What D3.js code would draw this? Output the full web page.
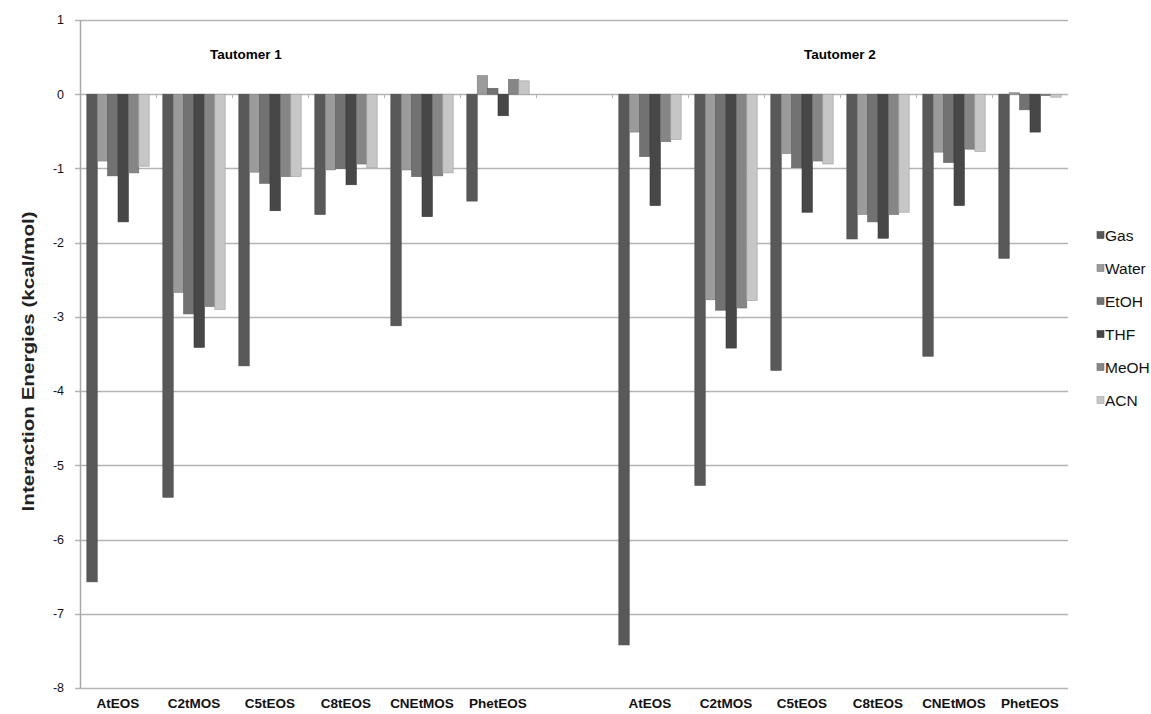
<!DOCTYPE html>
<html>
<head>
<meta charset="utf-8">
<script src="https://cdn.jsdelivr.net/npm/d3@7"></script>
<style>
  body { margin: 0; background: #fff; }
  svg { font-family: Arial, "Liberation Sans", sans-serif; }
</style>
</head>
<body>
<div id="chart"></div>
<script>
// compounds, repeated for each tautomer with one empty slot between
const compounds = ['AtEOS', 'C2tMOS', 'C5tEOS', 'C8tEOS', 'CNEtMOS', 'PhetEOS'];
const series = ['Gas', 'Water', 'EtOH', 'THF', 'MeOH', 'ACN'];
const colors = ['#595959', '#9b9b9b', '#727272', '#474747', '#868686', '#c6c6c6'];
const yTicks = [1, 0, -1, -2, -3, -4, -5, -6, -7, -8];

// values per compound, in series order
const tautomer1 = [
    [-6.57, -0.90, -1.10, -1.72, -1.06, -0.97],
    [-5.43, -2.67, -2.96, -3.41, -2.86, -2.90],
    [-3.66, -1.05, -1.20, -1.57, -1.11, -1.11],
    [-1.62, -1.02, -1.00, -1.22, -0.94, -0.99],
    [-3.12, -1.02, -1.11, -1.65, -1.10, -1.06],
    [-1.44, 0.25, 0.08, -0.29, 0.20, 0.18]
];
const tautomer2 = [
    [-7.42, -0.51, -0.84, -1.50, -0.64, -0.61],
    [-5.27, -2.77, -2.91, -3.42, -2.88, -2.78],
    [-3.72, -0.80, -0.99, -1.59, -0.90, -0.94],
    [-1.95, -1.62, -1.72, -1.94, -1.62, -1.59],
    [-3.53, -0.78, -0.92, -1.50, -0.74, -0.77],
    [-2.21, 0.02, -0.21, -0.51, -0.02, -0.04]
];

const width = 1151;
const height = 714;
const margin = {top: 20, right: 83, bottom: 26, left: 80};

// 13 slots: 6 + blank + 6
const slots = [
    ...compounds.map((c, i) => ({key: 'T1-' + c, label: c, values: tautomer1[i]})),
    {key: 'blank', label: '', values: []},
    ...compounds.map((c, i) => ({key: 'T2-' + c, label: c, values: tautomer2[i]}))
];

const svg = d3.select('#chart')
    .append('svg')
    .attr('width', width)
    .attr('height', height);

const x = d3.scaleBand()
    .domain(slots.map((d) => d.key))
    .range([margin.left, width - margin.right])
    .paddingInner(0.18)
    .paddingOuter(0.09);

const xOuter = d3.scaleBand()
    .domain(slots.map((d) => d.key))
    .range([margin.left, width - margin.right]);

const xInner = d3.scaleBand()
    .domain(series)
    .range([0, x.bandwidth()]);

const y = d3.scaleLinear()
    .domain([-8, 1])
    .range([height - margin.bottom, margin.top]);

// gridlines
svg.append('g')
    .selectAll('line')
    .data(yTicks)
    .enter()
    .append('line')
    .attr('x1', margin.left - 5)
    .attr('x2', width - margin.right)
    .attr('y1', (d) => Math.round(y(d)) + 0.5)
    .attr('y2', (d) => Math.round(y(d)) + 0.5)
    .style('stroke', '#b4b4b4')
    .style('stroke-width', 1.3);

// y axis line
svg.append('line')
    .attr('x1', margin.left + 0.5)
    .attr('x2', margin.left + 0.5)
    .attr('y1', y(1))
    .attr('y2', y(-8))
    .style('stroke', '#a8a8a8')
    .style('stroke-width', 1.5);

// y tick labels
svg.append('g')
    .selectAll('text')
    .data(yTicks)
    .enter()
    .append('text')
    .attr('x', margin.left - 16)
    .attr('y', (d) => y(d))
    .attr('dy', '0.35em')
    .attr('text-anchor', 'end')
    .attr('font-size', '12.5px')
    .attr('fill', '#111')
    .text((d) => d);

// category ticks on the zero line
svg.append('g')
    .selectAll('line')
    .data(slots.slice(1))
    .enter()
    .append('line')
    .attr('x1', (d) => Math.round(xOuter(d.key)) + 0.5)
    .attr('x2', (d) => Math.round(xOuter(d.key)) + 0.5)
    .attr('y1', y(0))
    .attr('y2', y(0) + 4)
    .style('stroke', '#b4b4b4');

// bars
const groups = svg.append('g')
    .selectAll('g')
    .data(slots)
    .enter()
    .append('g')
    .attr('transform', (d) => `translate(${x(d.key)},0)`);

groups.selectAll('rect')
    .data((d) => d.values.map((v, i) => ({series: series[i], value: v, i: i})))
    .enter()
    .append('rect')
    .attr('x', (d) => xInner(d.series))
    .attr('width', xInner.bandwidth())
    .attr('y', (d) => y(Math.max(0, d.value)))
    .attr('height', (d) => Math.abs(y(d.value) - y(0)))
    .style('fill', (d) => colors[d.i])
    .style('stroke', (d) => d3.color(colors[d.i]).darker(0.6))
    .style('stroke-width', 0.6);

// category labels at the bottom
svg.append('g')
    .selectAll('text')
    .data(slots)
    .enter()
    .append('text')
    .attr('x', (d) => xOuter(d.key) + xOuter.bandwidth() / 2)
    .attr('y', height - 6)
    .attr('text-anchor', 'middle')
    .attr('font-size', '13.5px')
    .attr('font-weight', 'bold')
    .attr('fill', '#111')
    .text((d) => d.label);

// tautomer titles
svg.append('text')
    .attr('x', xOuter('T1-C5tEOS') + 14)
    .attr('y', 59)
    .attr('text-anchor', 'middle')
    .attr('font-size', '13.5px')
    .attr('font-weight', 'bold')
    .text('Tautomer 1');

svg.append('text')
    .attr('x', xOuter('T2-C8tEOS'))
    .attr('y', 59)
    .attr('text-anchor', 'middle')
    .attr('font-size', '13.5px')
    .attr('font-weight', 'bold')
    .text('Tautomer 2');

// y axis title
svg.append('text')
    .attr('transform', `translate(34, ${y(-3.6)}) rotate(-90)`)
    .attr('text-anchor', 'middle')
    .attr('font-size', '17px')
    .attr('font-weight', 'bold')
    .attr('fill', '#222')
    .attr('textLength', 300)
    .attr('lengthAdjust', 'spacingAndGlyphs')
    .text('Interaction Energies (kcal/mol)');

// legend
const legend = svg.append('g')
    .selectAll('g')
    .data(series)
    .enter()
    .append('g')
    .attr('transform', (d, i) => `translate(1097, ${235 + i * 33})`);

legend.append('rect')
    .attr('x', 0)
    .attr('y', -3.5)
    .attr('width', 7)
    .attr('height', 7)
    .style('fill', (d, i) => colors[i])
    .style('stroke', (d, i) => d3.color(colors[i]).darker(0.6))
    .style('stroke-width', 0.6);

legend.append('text')
    .attr('x', 8)
    .attr('dy', '0.36em')
    .attr('font-size', '15.5px')
    .attr('fill', '#111')
    .text((d) => d);
</script>
</body>
</html>
